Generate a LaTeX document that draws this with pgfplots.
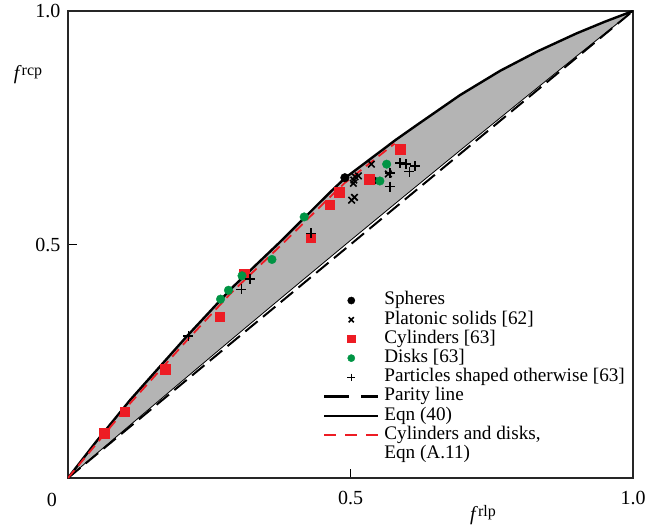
\documentclass[border=0pt]{standalone}
\usepackage{pgfplots}
\pgfplotsset{compat=1.18}
\usepackage{fontspec}
\setmainfont{Liberation Serif}
\definecolor{cred}{RGB}{237,28,36}
\definecolor{cgreen}{RGB}{0,148,68}
\definecolor{cgray}{RGB}{180,180,180}
\begin{document}
\begin{tikzpicture}
\begin{axis}[
  name=ax,
  clip mode=individual,
  scale only axis, width=565pt, height=467pt,
  xmin=0, xmax=1, ymin=0, ymax=1,
  xtick={0.5,1}, xticklabels={0.5,1.0},
  ytick={0.5,1}, yticklabels={0.5,1.0},
  tick align=inside, xtick pos=bottom, ytick pos=left,
  major tick length=9pt,
  tick style={black, line width=1pt},
  axis line style={line width=1.1pt, black!85},
  ticklabel style={font=\fontsize{20}{24}\selectfont},
  xticklabel style={yshift=-10pt},
  yticklabel style={xshift=-4pt},
  legend image code/.code={\draw[mark repeat=2,mark phase=2,#1] plot coordinates {(0pt,0pt)(27pt,0pt)(54pt,0pt)};},
  legend style={at={(0.4513,0.401)}, anchor=north west, draw=none, fill=none,
    inner sep=0pt, column sep=5pt, row sep=0pt,
    font=\fontsize{19.2}{19.2}\selectfont, cells={anchor=west},
    nodes={inner sep=0pt, text height=14pt, text depth=5.2pt}},
]
% gray region
\addplot[fill=cgray, draw=none, forget plot] coordinates {
(0,0) (0.05,0.078) (0.11,0.167) (0.21,0.303) (0.29,0.407) (0.375,0.505) (0.464,0.612) (0.49,0.642) (0.58,0.724) (0.62,0.758) (0.694,0.820) (0.765,0.872) (0.83,0.913) (0.90,0.952) (0.95,0.977) (1,1)
(0.9,0.9032) (0.8,0.8056) (0.7,0.7074) (0.6,0.6084) (0.5,0.5088) (0.4,0.4084) (0.3,0.3074) (0.2,0.2056) (0.1,0.1032)
} -- cycle;
% lower boundary
\addplot[black, line width=0.8pt, forget plot] coordinates {
(0,0) (0.1,0.1032) (0.2,0.2056) (0.3,0.3074) (0.4,0.4084) (0.5,0.5088) (0.6,0.6084) (0.7,0.7074) (0.8,0.8056) (0.9,0.9032) (1,1)};
% parity line
\addplot[black, line width=2pt, dash pattern=on 16pt off 7pt, forget plot] coordinates {(0,0) (1,1)};
% Eqn (40)
\addplot[black, line width=2.4pt, forget plot] coordinates {
(0,0) (0.05,0.078) (0.11,0.167) (0.21,0.303) (0.29,0.407) (0.375,0.505) (0.464,0.612) (0.49,0.642) (0.58,0.724) (0.62,0.758) (0.694,0.820) (0.765,0.872) (0.83,0.913) (0.90,0.952) (0.95,0.977) (1,1)};
% Cylinders and disks Eqn (A.11)
\addplot[cred, line width=1.8pt, dash pattern=on 10pt off 6pt, forget plot] coordinates {
(0,0) (0.11,0.160) (0.21,0.294) (0.29,0.398) (0.375,0.496) (0.464,0.602) (0.49,0.632) (0.578,0.716)};
% spheres
\addplot[only marks, mark=*, mark size=4.3pt, black, forget plot] coordinates {(0.490,0.643) (0.540,0.637)};
% cylinders
\addplot[only marks, mark=square*, mark size=4.6pt, cred, forget plot] coordinates {
(0.064,0.096) (0.101,0.142) (0.172,0.233) (0.269,0.345) (0.312,0.438) (0.430,0.515) (0.463,0.585) (0.480,0.612) (0.533,0.640) (0.588,0.704)};
% disks
\addplot[only marks, mark=*, mark size=4.3pt, cgreen, forget plot] coordinates {
(0.270,0.383) (0.284,0.402) (0.308,0.433) (0.361,0.468) (0.418,0.559) (0.552,0.636) (0.564,0.672)};
% platonic solids
\addplot[only marks, mark=x, mark size=4.6pt, black, line width=1.6pt, forget plot] coordinates {
(0.537,0.672) (0.508,0.645) (0.514,0.647) (0.506,0.638) (0.505,0.631) (0.502,0.595) (0.507,0.601) (0.567,0.651)};
% other particles
\addplot[only marks, mark=+, mark size=5pt, black, line width=1.5pt, forget plot] coordinates {
(0.213,0.304) (0.307,0.404) (0.322,0.426) (0.430,0.524) (0.570,0.653) (0.570,0.624) (0.588,0.674) (0.598,0.672) (0.604,0.656) (0.614,0.668)};
% legend
\addlegendimage{only marks, mark=*, mark size=3.6pt, black}
\addlegendentry{Spheres}
\addlegendimage{only marks, mark=x, mark size=3.6pt, black, line width=1.5pt}
\addlegendentry{Platonic solids [62]}
\addlegendimage{only marks, mark=square*, mark size=3.6pt, cred}
\addlegendentry{Cylinders [63]}
\addlegendimage{only marks, mark=*, mark size=3.6pt, cgreen}
\addlegendentry{Disks [63]}
\addlegendimage{only marks, mark=+, mark size=3.8pt, black, line width=1.4pt}
\addlegendentry{Particles shaped otherwise [63]}
\addlegendimage{black, line width=2.2pt, dash pattern=on 25pt off 12pt}
\addlegendentry{Parity line}
\addlegendimage{black, line width=2.2pt}
\addlegendentry{Eqn (40)}
\addlegendimage{cred, line width=1.8pt, dash pattern=on 12pt off 9pt}
\addlegendentry{Cylinders and disks,}
\addlegendimage{empty legend}
\addlegendentry{Eqn (A.11)}
% labels
\node[font=\fontsize{20}{24}\selectfont] at (rel axis cs:0,0) [xshift=-16pt, yshift=-22pt] {0};
\node[font=\fontsize{20}{24}\selectfont] at (rel axis cs:0,0.863) [xshift=-40pt] {\textit{f}\raisebox{4pt}{\fontsize{16}{16}\selectfont rcp}};
\node[font=\fontsize{20}{24}\selectfont] at (rel axis cs:0.7345,0) [yshift=-37pt] {\textit{f}\raisebox{4pt}{\fontsize{16}{16}\selectfont rlp}};
\end{axis}
\path (ax.south west) ++(-68pt,-48pt);
\path (ax.north east) ++(28pt,11pt);
\end{tikzpicture}
\end{document}
